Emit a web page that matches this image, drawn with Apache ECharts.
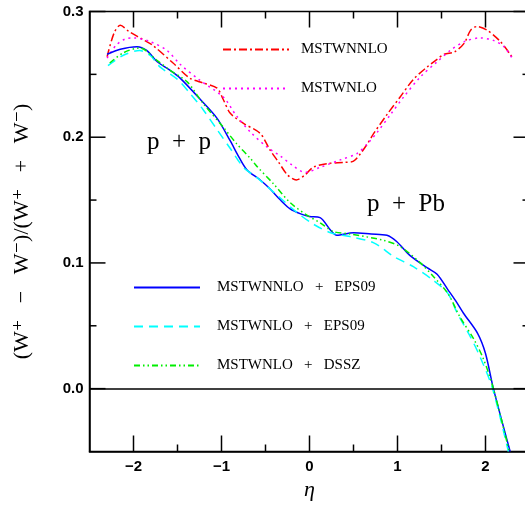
<!DOCTYPE html>
<html>
<head>
<meta charset="utf-8">
<script src="https://cdn.jsdelivr.net/npm/echarts@6/dist/echarts.min.js"></script>
<style>html,body{margin:0;padding:0;background:#fff}#c{width:525px;height:506px}</style>
</head>
<body>
<div id="c"></div>
<script>
// tick values
const xMajor = [-2, -1, 0, 1, 2];
const xMinor = [-1.5, -0.5, 0.5, 1.5];
const yMajor = [0, 0.1, 0.2, 0.3];
const yMinor = [0.05, 0.15, 0.25];
const xRange = [-2.5, 2.5];
const yRange = [-0.05, 0.3];

// series: [eta, asymmetry]
const mstwNNLO = [[-2.3,0.264],[-2.22,0.283],[-2.15,0.289],[-2.05,0.284],[-1.9,0.278],[-1.78,0.273],[-1.55,0.259],[-1.36,0.247],[-1.2,0.243],[-1.05,0.239],[-0.98,0.230],[-0.9,0.219],[-0.75,0.211],[-0.56,0.203],[-0.45,0.190],[-0.35,0.180],[-0.25,0.170],[-0.15,0.166],[-0.05,0.170],[0.04,0.176],[0.2,0.179],[0.4,0.180],[0.5,0.181],[0.58,0.187],[0.66,0.195],[0.73,0.203],[0.88,0.218],[1.03,0.232],[1.18,0.246],[1.34,0.256],[1.45,0.262],[1.53,0.266],[1.65,0.268],[1.76,0.275],[1.83,0.285],[1.9,0.288],[2.02,0.285],[2.17,0.276],[2.3,0.264]];
const mstwNLO = [[-2.3,0.263],[-2.2,0.273],[-2.1,0.278],[-2.0,0.279],[-1.81,0.276],[-1.62,0.269],[-1.47,0.258],[-1.24,0.245],[-0.98,0.232],[-0.83,0.217],[-0.67,0.204],[-0.48,0.192],[-0.33,0.185],[-0.2,0.178],[-0.05,0.172],[0.12,0.176],[0.35,0.182],[0.54,0.187],[0.66,0.195],[0.77,0.204],[0.92,0.218],[1.07,0.232],[1.26,0.248],[1.45,0.260],[1.6,0.269],[1.76,0.276],[1.94,0.279],[2.09,0.277],[2.21,0.272],[2.31,0.262]];
const nnloEPS09 = [[-2.3,0.266],[-2.15,0.270],[-1.96,0.272],[-1.85,0.269],[-1.73,0.260],[-1.58,0.253],[-1.47,0.247],[-1.24,0.230],[-1.05,0.215],[-0.9,0.197],[-0.8,0.184],[-0.71,0.174],[-0.56,0.166],[-0.45,0.159],[-0.33,0.150],[-0.22,0.143],[-0.1,0.139],[0.0,0.137],[0.12,0.136],[0.24,0.126],[0.31,0.122],[0.5,0.124],[0.7,0.123],[0.88,0.122],[0.99,0.117],[1.14,0.106],[1.34,0.096],[1.45,0.091],[1.57,0.079],[1.66,0.070],[1.75,0.060],[1.91,0.044],[2.0,0.028],[2.09,0.0],[2.28,-0.05]];
const nloEPS09 = [[-2.29,0.257],[-2.12,0.265],[-1.93,0.269],[-1.81,0.265],[-1.7,0.256],[-1.5,0.246],[-1.36,0.235],[-1.21,0.222],[-1.05,0.206],[-0.9,0.191],[-0.75,0.176],[-0.6,0.168],[-0.37,0.154],[-0.14,0.140],[0.04,0.131],[0.24,0.124],[0.46,0.121],[0.73,0.116],[0.96,0.105],[1.18,0.097],[1.41,0.086],[1.57,0.076],[1.68,0.060],[1.83,0.041],[1.94,0.025],[2.08,0.0],[2.26,-0.05]];
const nloDSSZ = [[-2.27,0.259],[-2.12,0.267],[-1.93,0.271],[-1.73,0.261],[-1.58,0.253],[-1.39,0.244],[-1.21,0.227],[-0.98,0.208],[-0.83,0.195],[-0.67,0.183],[-0.6,0.177],[-0.41,0.163],[-0.22,0.148],[-0.03,0.138],[0.12,0.132],[0.27,0.125],[0.46,0.123],[0.84,0.118],[1.03,0.113],[1.26,0.100],[1.41,0.089],[1.57,0.076],[1.71,0.057],[1.87,0.039],[1.98,0.023],[2.09,0.0],[2.27,-0.05]];

const names = ['MSTWNNLO', 'MSTWNLO', 'MSTWNNLO   +   EPS09', 'MSTWNLO   +   EPS09', 'MSTWNLO   +   DSSZ'];

const GRID = {left:89.5, top:11.5, width:440, height:440};

function lineSeries(name, data, color, type) {
  return {
    name, type:'line', data, symbol:'none', smooth:0.3, clip:true,
    lineStyle:{color, width:1.5, type}, itemStyle:{color},
    emphasis:{disabled:true}
  };
}

const chart = echarts.init(document.getElementById('c'), null, {renderer:'canvas'});
const series = [
  lineSeries(names[0], mstwNNLO, '#ff0000', [8,3,2,3]),
  lineSeries(names[1], mstwNLO, '#ff00ff', [2,4]),
  lineSeries(names[2], nnloEPS09, '#0000ff', 'solid'),
  lineSeries(names[3], nloEPS09, '#00ffff', [9,6]),
  lineSeries(names[4], nloDSSZ, '#00ee00', [6,3,1.5,3,1.5,3])
];
series[2].markLine = {silent:true, symbol:['none','none'], label:{show:false},
  lineStyle:{color:'#000', width:1.5, type:'solid'}, data:[{yAxis:0}]};

const legendBase = () => ({orient:'vertical', itemWidth:66, itemHeight:14, itemGap:24, padding:0,
  selectedMode:false, itemStyle:{opacity:0, borderWidth:0}});

chart.setOption({
  animation:false,
  grid:Object.assign({containLabel:false, outerBoundsMode:'none', show:true, borderColor:'#000', borderWidth:1.5, backgroundColor:'transparent'}, GRID),
  xAxis:{
    type:'value', min:xRange[0], max:xRange[1], position:'bottom',
    axisLine:{show:true, onZero:false, lineStyle:{color:'#000', width:1.5}},
    axisTick:{show:false},
    axisLabel:{customValues:xMajor, margin:8, color:'#000', fontFamily:'Liberation Sans', fontWeight:'bold', fontSize:15,
      formatter: v => String(v).replace('-', '\u2212')},
    splitLine:{show:false},
    name:'\u03b7', nameLocation:'middle', nameGap:27,
    nameTextStyle:{fontFamily:'Liberation Serif', fontStyle:'italic', fontSize:22, color:'#000'}
  },
  yAxis:{
    type:'value', min:yRange[0], max:yRange[1], position:'left',
    axisLine:{show:true, onZero:false, lineStyle:{color:'#000', width:1.5}},
    axisTick:{show:false},
    axisLabel:{customValues:yMajor, margin:6, color:'#000', fontFamily:'Liberation Sans', fontWeight:'bold', fontSize:15,
      formatter: v => v.toFixed(1)},
    splitLine:{show:false},
    name:'(W\u207a   \u2212   W\u207b)/(W\u207a   +   W\u207b)', nameLocation:'middle', nameGap:56,
    nameTextStyle:{fontFamily:'Liberation Serif, DejaVu Serif', fontSize:22, color:'#000'}
  },
  legend:[
    Object.assign({data:[names[0], names[1]], left:222, top:42,
      textStyle:{fontFamily:'Liberation Serif', fontSize:15, color:'#000', padding:[0,0,0,7]}}, legendBase()),
    Object.assign({data:[names[2], names[3], names[4]], left:133, top:280,
      textStyle:{fontFamily:'Liberation Serif', fontSize:15, color:'#000', padding:[0,0,0,12]}}, legendBase())
  ],
  graphic:[
    {type:'text', left:147, top:130, style:{text:'p  +  p', font:'25px "Liberation Serif"', fill:'#000'}},
    {type:'text', left:367, top:192, style:{text:'p  +  Pb', font:'25px "Liberation Serif"', fill:'#000'}}
  ],
  series
});

// tick marks, placed through the series' cartesian scales, on their own layer
function px(x, y) {
  let p = null;
  try { p = chart.convertToPixel({seriesIndex:0}, [x, y]); } catch (e) { p = null; }
  if (!p || !isFinite(p[0]) || !isFinite(p[1])) {
    p = [GRID.left + (x - xRange[0]) / (xRange[1] - xRange[0]) * GRID.width,
         GRID.top + (yRange[1] - y) / (yRange[1] - yRange[0]) * GRID.height];
  }
  return p;
}
const bl = px(xRange[0], yRange[0]), tr = px(xRange[1], yRange[1]);
const L = bl[0], B = bl[1], R = tr[0], T = tr[1];
const segs = [];
function addX(vals, len) {
  vals.forEach(v => { const x = px(v, yRange[0])[0]; segs.push([x, B, x, B - len], [x, T, x, T + len]); });
}
function addY(vals, len) {
  vals.forEach(v => { const y = px(xRange[0], v)[1]; segs.push([L, y, L + len, y], [R, y, R - len, y]); });
}
addX(xMajor, 16); addX(xMinor, 7); addY(yMajor, 16); addY(yMinor, 7);

const zr = chart.getZr();
segs.forEach(s => {
  zr.add(new echarts.graphic.Line({
    zlevel: 3, z: 100, silent: true,
    shape: {x1: s[0], y1: s[1], x2: s[2], y2: s[3]},
    style: {stroke: '#000', lineWidth: 1.5, lineDash: null, opacity: 1}
  }));
});
</script>
</body>
</html>
